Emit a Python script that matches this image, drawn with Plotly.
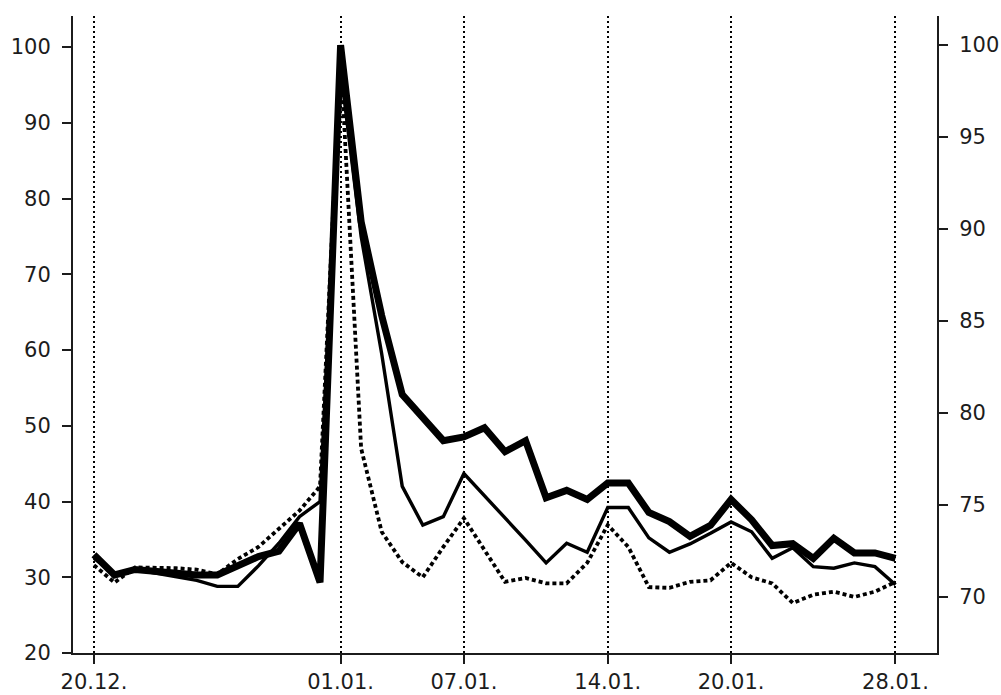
import plotly.graph_objects as go

# Daily observation dates (day.month.)
days = [
    "20.12.", "21.12.", "22.12.", "23.12.", "24.12.", "25.12.", "26.12.", "27.12.",
    "28.12.", "29.12.", "30.12.", "31.12.",
    "01.01.", "02.01.", "03.01.", "04.01.", "05.01.", "06.01.", "07.01.", "08.01.",
    "09.01.", "10.01.", "11.01.", "12.01.", "13.01.", "14.01.", "15.01.", "16.01.",
    "17.01.", "18.01.", "19.01.", "20.01.", "21.01.", "22.01.", "23.01.", "24.01.",
    "25.01.", "26.01.", "27.01.", "28.01.",
]
tick_days = ["20.12.", "01.01.", "07.01.", "14.01.", "20.01.", "28.01."]

# Thick solid series, read against the right-hand scale
thick_right = [
    72.3, 71.2, 71.5, 71.4, 71.3, 71.2, 71.2, 71.7, 72.2, 72.5, 74.0, 70.8,
    100.0, 90.4, 85.3, 81.0, 79.7, 78.5, 78.7, 79.2, 77.9, 78.5, 75.4, 75.8,
    75.3, 76.2, 76.2, 74.6, 74.1, 73.3, 73.9, 75.3, 74.2, 72.8, 72.9, 72.1,
    73.2, 72.4, 72.4, 72.1,
]

# Thin solid series, left-hand scale
thin_left = [
    32.5, 30.5, 31.0, 30.5, 30.0, 29.6, 28.8, 28.8, 31.5, 34.5, 38.0, 40.0,
    97.0, 75.0, 59.5, 42.0, 36.9, 38.0, 43.7, 40.8, 37.8, 34.9, 31.9, 34.5,
    33.3, 39.2, 39.2, 35.2, 33.3, 34.4, 35.8, 37.3, 36.0, 32.5, 33.9, 31.4,
    31.2, 31.9, 31.4, 29.0,
]

# Dotted series, left-hand scale
dotted_left = [
    31.6, 29.3, 31.3, 31.3, 31.2, 31.0, 30.4, 32.4, 34.0, 36.4, 38.8, 42.0,
    99.0, 47.0, 36.0, 32.0, 30.0, 34.0, 37.8, 33.6, 29.4, 29.9, 29.2, 29.2,
    31.9, 36.9, 34.0, 28.7, 28.6, 29.4, 29.6, 31.9, 30.0, 29.2, 26.6, 27.7,
    28.1, 27.4, 28.1, 29.4,
]

left_ticks = [20, 30, 40, 50, 60, 70, 80, 90, 100]
right_ticks = [70, 75, 80, 85, 90, 95, 100]

x = list(range(len(days)))
tick_idx = [days.index(d) for d in tick_days]

ink = "#1c1c1c"
font = dict(family="DejaVu Sans, Arial, sans-serif", size=21, color=ink)

fig = go.Figure()
fig.add_trace(go.Scatter(
    x=x, y=dotted_left, mode="lines", yaxis="y",
    line=dict(color="black", width=3.8, dash="4px,3px"),
    hoverinfo="skip",
))
fig.add_trace(go.Scatter(
    x=x, y=thin_left, mode="lines", yaxis="y",
    line=dict(color="black", width=3.4),
    hoverinfo="skip",
))
fig.add_trace(go.Scatter(
    x=x, y=thick_right, mode="lines", yaxis="y2",
    line=dict(color="black", width=7),
    hoverinfo="skip",
))

axis_common = dict(
    showline=True, linecolor=ink, linewidth=2,
    ticks="outside", ticklen=9, tickwidth=2, tickcolor=ink,
    tickfont=font, zeroline=False, automargin=False,
)

fig.update_layout(
    width=1001, height=695,
    margin=dict(l=73, r=64, t=16, b=42),
    paper_bgcolor="white", plot_bgcolor="white",
    showlegend=False,
    xaxis=dict(
        range=[-1.02, 41.02],
        tickvals=tick_idx, ticktext=tick_days,
        showgrid=True, gridcolor="black", gridwidth=1.5, griddash="2px,3px",
        ticklabelstandoff=0,
        **axis_common,
    ),
    yaxis=dict(
        range=[20, 104.1], tickvals=left_ticks,
        showgrid=False, ticklabelstandoff=7,
        **axis_common,
    ),
    yaxis2=dict(
        range=[66.96, 101.58], tickvals=right_ticks,
        overlaying="y", side="right",
        showgrid=False, ticklabelstandoff=7,
        **axis_common,
    ),
)

fig.write_html("out.html")
